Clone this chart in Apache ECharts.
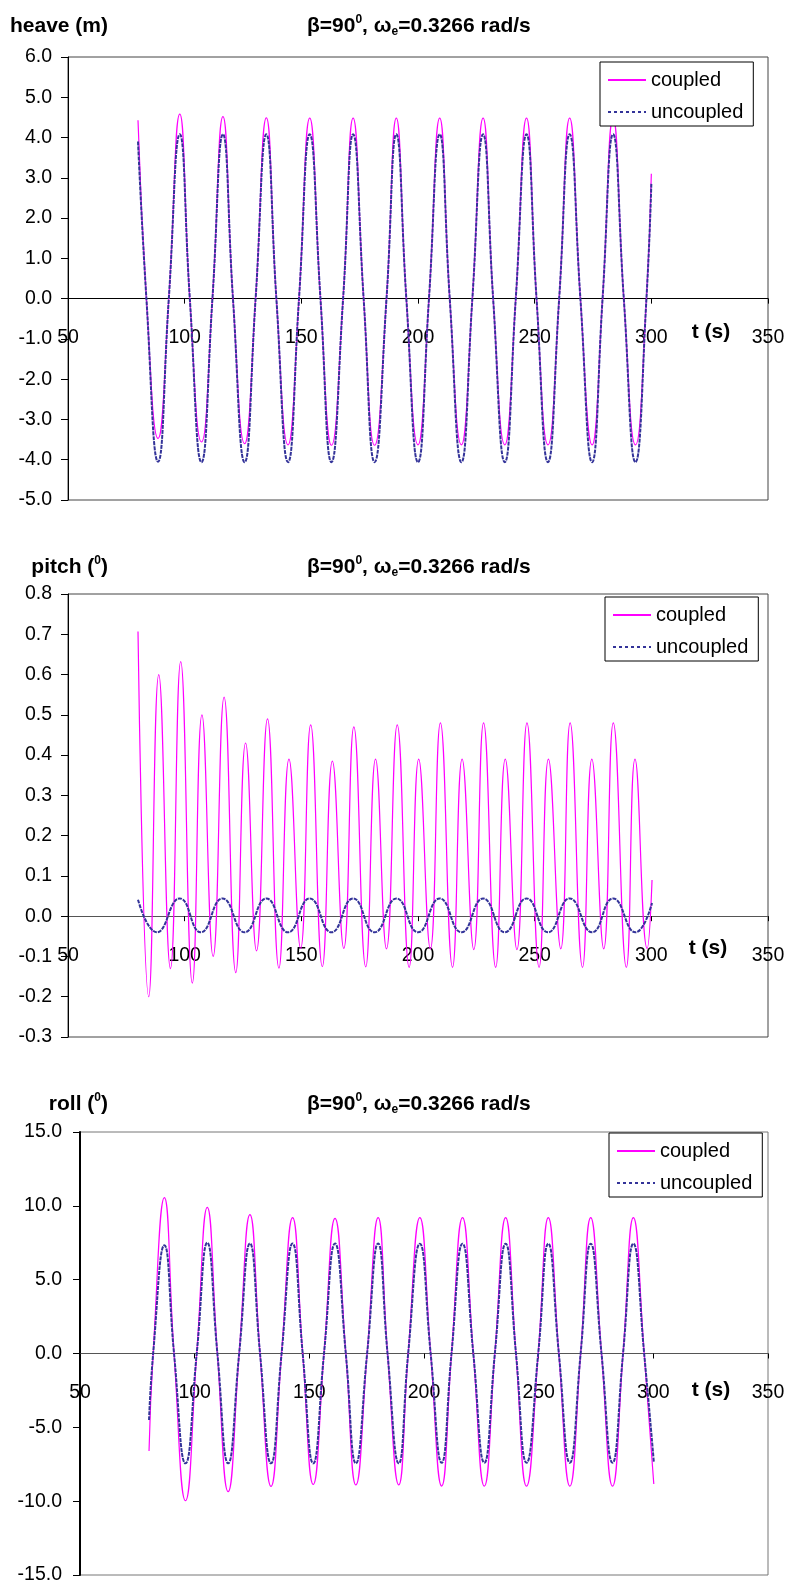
<!DOCTYPE html>
<html>
<head>
<meta charset="utf-8">
<script src="https://cdn.jsdelivr.net/npm/echarts@6/dist/echarts.min.js"></script>
<style>
  html, body { margin: 0; padding: 0; background: #fff; }
  #chart { width: 788px; height: 1589px; }
</style>
</head>
<body>
<div id="chart"></div>
<script>
// heave: start, then zero / trough / zero / peak per cycle
const heaveT = [80, 83.6, 88.6, 93.2, 97.9, 102.2, 107.2, 111.9, 116.4, 120.7, 125.7, 130.4,
  135.0, 139.3, 144.3, 149.0, 153.6, 158.2, 162.9, 167.9, 172.2, 176.7, 181.4, 186.5,
  190.7, 195.0, 200.0, 204.7, 209.3, 213.6, 218.6, 223.3, 227.9, 232.2, 237.2, 241.9,
  246.5, 250.8, 255.7, 260.5, 265.0, 269.6, 274.6, 279.1, 283.6, 288.2, 293.2, 297.9, 300.0];
const heaveCoupled = [4.43, 0, -3.47, 0, 4.58, 0, -3.56, 0, 4.52, 0, -3.60, 0,
  4.49, 0, -3.63, 0, 4.48, 0, -3.64, 0, 4.48, 0, -3.64, 0,
  4.48, 0, -3.63, 0, 4.48, 0, -3.63, 0, 4.48, 0, -3.63, 0,
  4.48, 0, -3.63, 0, 4.48, 0, -3.63, 0, 4.48, 0, -3.63, 0, 3.1];
const heaveUncoupled = [3.9, 0, -4.05, 0, 4.08, 0, -4.06, 0, 4.08, 0, -4.06, 0,
  4.08, 0, -4.06, 0, 4.08, 0, -4.06, 0, 4.08, 0, -4.06, 0,
  4.08, 0, -4.06, 0, 4.08, 0, -4.06, 0, 4.08, 0, -4.06, 0,
  4.08, 0, -4.06, 0, 4.08, 0, -4.06, 0, 4.08, 0, -4.06, 0, 2.85];

// pitch: peaks and troughs
const pitchCT = [80, 84.6, 88.9, 93.9, 98.3, 103.3, 107.4, 112.2, 116.9, 121.9, 126.1, 130.8,
  135.5, 140.4, 144.7, 149.7, 154.0, 159.0, 163.3, 168.2, 172.5, 177.6, 181.8, 186.5,
  191.1, 196.2, 200.3, 205.3, 209.6, 214.8, 218.9, 223.9, 228.1, 233.3, 237.4, 242.4,
  246.7, 251.9, 255.9, 261.2, 265.2, 270.5, 274.5, 279.6, 283.7, 289.3, 293.0, 298.2, 300.3];
const pitchCoupled = [0.707, -0.20, 0.60, -0.13, 0.632, -0.166, 0.50, -0.10, 0.544, -0.14, 0.43, -0.086,
  0.49, -0.129, 0.39, -0.08, 0.475, -0.125, 0.385, -0.08, 0.47, -0.126, 0.39, -0.081,
  0.475, -0.127, 0.39, -0.081, 0.48, -0.127, 0.39, -0.083, 0.48, -0.127, 0.39, -0.083,
  0.48, -0.127, 0.39, -0.081, 0.48, -0.127, 0.39, -0.081, 0.48, -0.127, 0.39, -0.08, 0.09];
const pitchUT = [80, 88.1, 97.9, 106.9, 116.2, 125.7, 135.0, 144.3, 153.6, 162.9, 172.2, 181.4,
  190.8, 200.0, 209.3, 218.6, 227.9, 237.2, 246.5, 255.7, 265.0, 274.6, 283.6, 293.2, 300.3];
const pitchUncoupled = [0.041, -0.040, 0.044, -0.040, 0.044, -0.040, 0.044, -0.040, 0.044, -0.040, 0.044, -0.040,
  0.044, -0.040, 0.044, -0.040, 0.044, -0.040, 0.044, -0.040, 0.044, -0.040, 0.044, -0.040, 0.033];

// roll: start, then zero / peak / zero / trough per cycle
const rollT = [80.1, 81.9, 86.8, 91.0, 96.0, 100.9, 105.5, 109.9, 114.6, 119.4, 124.1, 128.5,
  133.3, 137.9, 142.7, 147.1, 151.7, 156.4, 161.2, 165.9, 170.3, 175.2, 180.0, 184.1,
  189.0, 193.1, 198.2, 202.9, 207.7, 212.0, 216.8, 221.5, 226.3, 230.9, 235.6, 240.1,
  244.7, 249.8, 254.2, 258.8, 263.6, 268.3, 272.7, 277.4, 282.2, 286.8, 291.3, 296.0, 300.2];
const rollCoupled = [-6.6, 0, 10.55, 0, -9.97, 0, 9.9, 0, -9.36, 0, 9.4, 0,
  -9.0, 0, 9.2, 0, -8.87, 0, 9.15, 0, -8.9, 0, 9.2, 0,
  -8.9, 0, 9.2, 0, -8.98, 0, 9.2, 0, -8.98, 0, 9.2, 0,
  -8.98, 0, 9.2, 0, -8.98, 0, 9.2, 0, -8.98, 0, 9.2, 0, -8.84];
const rollUncoupled = [-4.5, 0, 7.33, 0, -7.44, 0, 7.5, 0, -7.44, 0, 7.45, 0,
  -7.44, 0, 7.45, 0, -7.44, 0, 7.45, 0, -7.44, 0, 7.45, 0,
  -7.44, 0, 7.44, 0, -7.4, 0, 7.44, 0, -7.4, 0, 7.44, 0,
  -7.4, 0, 7.44, 0, -7.4, 0, 7.44, 0, -7.4, 0, 7.44, 0, -7.33];

const FONT = '"Liberation Sans", Arial, sans-serif';
const MAGENTA = '#FF00FF';
const NAVY = '#333399';
const GRID_H = 443;

function pairs(t, v) {
    return t.map((x, i) => [x, v[i]]);
}

// x axis sits on the zero line: shift it up from the grid bottom
function xAxisFor(gridIndex, lineColor, ymin, ymax) {
    const up = GRID_H * (0 - ymin) / (ymax - ymin);
    return {
        type: 'value', gridIndex: gridIndex, min: 50, max: 350, interval: 50,
        offset: -up,
        axisLine: { onZero: false, lineStyle: { color: lineColor, width: 1 } },
        axisTick: { length: 5, lineStyle: { color: '#000' } },
        axisLabel: { margin: 29, color: '#000', fontSize: 19.5, fontFamily: FONT },
        splitLine: { show: false }
    };
}

function yAxisFor(gridIndex, min, max, interval, width, margin) {
    return {
        type: 'value', gridIndex: gridIndex, min: min, max: max, interval: interval,
        axisLine: { show: true, onZero: false, lineStyle: { color: '#000', width: width } },
        axisTick: { show: true, length: 7, lineStyle: { color: '#000' } },
        axisLabel: {
            margin: margin, color: '#000', fontSize: 19.5, fontFamily: FONT,
            formatter: v => (Math.abs(v) < 1e-9 ? 0 : v).toFixed(1)
        },
        splitLine: { show: false }
    };
}

function legendAt(left, top) {
    return {
        left: left, top: top, orient: 'vertical',
        itemWidth: 38, itemHeight: 14, itemGap: 12,
        padding: [8, 10, 4, 7],
        backgroundColor: '#fff', borderColor: '#000', borderWidth: 1, borderRadius: 0,
        selectedMode: false,
        itemStyle: { opacity: 0 },
        textStyle: { fontSize: 20, fontFamily: FONT, color: '#000' },
        data: [
            { name: 'coupled' },
            { name: 'uncoupled', lineStyle: { type: [3, 3], width: 2 } }
        ]
    };
}

function line(name, idx, data, color, width, type) {
    return {
        name: name, type: 'line', xAxisIndex: idx, yAxisIndex: idx,
        data: data, smooth: true, symbol: 'none', animation: false,
        lineStyle: { color: color, width: width, type: type },
        itemStyle: { color: color }
    };
}

const rich = {
    m: { fontSize: 21, fontWeight: 'bold', fontFamily: FONT, lineHeight: 24 },
    sup: { fontSize: 12, fontWeight: 'bold', fontFamily: FONT, lineHeight: 12, verticalAlign: 'top' },
    sub: { fontSize: 12, fontWeight: 'bold', fontFamily: FONT, lineHeight: 18, verticalAlign: 'bottom' }
};

function label(x, y, text, align) {
    return {
        type: 'text', x: x, y: y, silent: true,
        style: { text: text, rich: rich, fill: '#000', align: align, verticalAlign: 'middle' }
    };
}

const titleText = '{m|β=90}{sup|0}{m|, ω}{sub|e}{m|=0.3266 rad/s}';

const chart = echarts.init(document.getElementById('chart'), null, { renderer: 'canvas' });
chart.setOption({
    backgroundColor: '#fff',
    animation: false,
    grid: [
        { left: 68, top: 57, width: 700, height: GRID_H, show: true, borderColor: '#444', borderWidth: 1 },
        { left: 68, top: 594, width: 700, height: GRID_H, show: true, borderColor: '#444', borderWidth: 1 },
        { left: 80, top: 1132, width: 688, height: GRID_H, show: true, borderColor: '#777', borderWidth: 1 }
    ],
    xAxis: [
        xAxisFor(0, '#000', -5, 6),
        xAxisFor(1, '#555', -0.3, 0.8),
        xAxisFor(2, '#555', -15, 15)
    ],
    yAxis: [
        yAxisFor(0, -5, 6, 1, 1, 16),
        yAxisFor(1, -0.3, 0.8, 0.1, 1, 16),
        yAxisFor(2, -15, 15, 5, 2, 18)
    ],
    legend: [
        legendAt(600, 62),
        legendAt(605, 597),
        legendAt(609, 1133)
    ],
    graphic: [
        label(108, 26, '{m|heave (m)}', 'right'),
        label(307, 26, titleText, 'left'),
        label(711, 332, '{m|t (s)}', 'center'),
        label(108, 567, '{m|pitch (}{sup|0}{m|)}', 'right'),
        label(307, 567, titleText, 'left'),
        label(708, 948, '{m|t (s)}', 'center'),
        label(108, 1104, '{m|roll (}{sup|0}{m|)}', 'right'),
        label(307, 1104, titleText, 'left'),
        label(711, 1390, '{m|t (s)}', 'center')
    ],
    series: [
        line('coupled', 0, pairs(heaveT, heaveCoupled), MAGENTA, 1.2, 'solid'),
        line('uncoupled', 0, pairs(heaveT, heaveUncoupled), NAVY, 2, [4, 1]),
        line('coupled', 1, pairs(pitchCT, pitchCoupled), MAGENTA, 1.2, 'solid'),
        line('uncoupled', 1, pairs(pitchUT, pitchUncoupled), NAVY, 2, [4, 1]),
        line('coupled', 2, pairs(rollT, rollCoupled), MAGENTA, 1.2, 'solid'),
        line('uncoupled', 2, pairs(rollT, rollUncoupled), NAVY, 2, [4, 1])
    ]
});
</script>
</body>
</html>
